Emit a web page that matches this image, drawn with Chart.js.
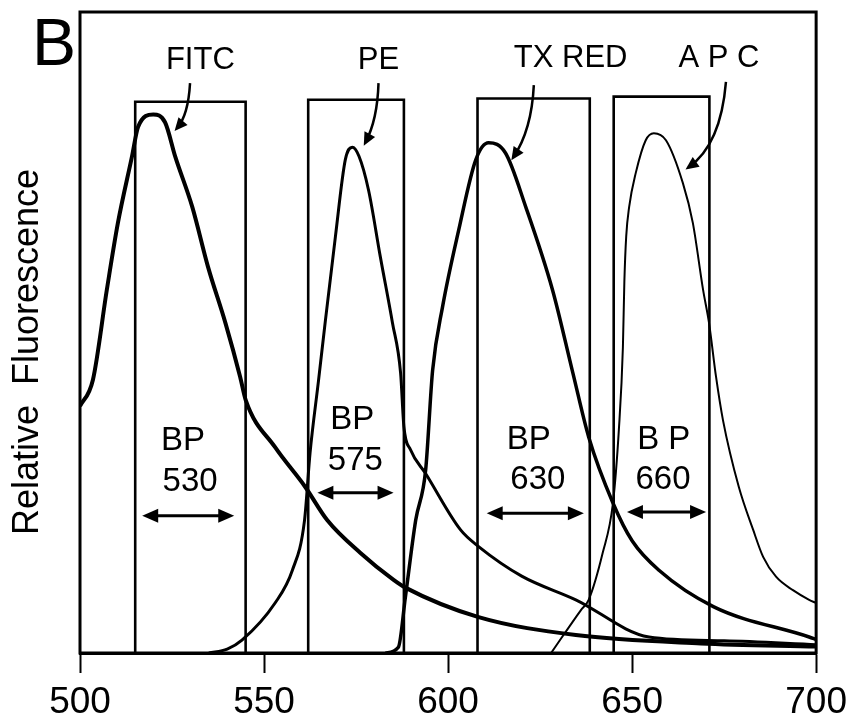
<!DOCTYPE html>
<html>
<head>
<meta charset="utf-8">
<script src="https://cdn.jsdelivr.net/npm/chart.js@4/dist/chart.umd.min.js"></script>
<style>
  body { margin: 0; background: #fff; }
  canvas { display: block; }
</style>
</head>
<body>
<canvas id="spectraChart" width="855" height="725"></canvas>
<script>
// emission curves, [nm, relative fluorescence]
const fitc = [[500, 38.5], [503.5, 42.6], [507.3, 56.7], [510.3, 67.1], [514.1, 77.4], [515.8, 82.1], [519.9, 84.0],
  [523.1, 82.8], [525.9, 77.4], [530.5, 69.6], [534.8, 60.2], [539.5, 51.5], [543.5, 43.1], [545, 39.5], [553, 32.1],
  [561.2, 25.9], [567.2, 20.7], [576.2, 15.6], [585.2, 11.4], [588.4, 10.2], [608.3, 5.6], [634.7, 2.8],
  [668.7, 1.5], [700, 1.0]];
const pe = [[535, 0], [540, 0.6], [544, 2.0], [553, 7.8], [557.7, 12.9], [561, 20.7], [562.5, 31.2], [564.8, 42.5],
  [566.7, 52.0], [569.4, 65.0], [572.1, 77.0], [574, 78.9], [575.8, 77.5], [578.4, 72.2], [581.6, 61.8],
  [584.9, 51.5], [587.1, 43.7], [588, 35.3], [589.8, 31.7], [593.9, 28.0], [603.4, 19.2], [608.3, 16.6],
  [620, 12.0], [634.7, 8.3], [654.6, 2.5], [675, 1.9], [700, 1.3]];
const txRed = [[583, 0], [586.5, 0.9], [588.4, 8.7], [591.2, 20.7], [593.9, 28.5], [595.8, 44.1], [598.5, 54.0],
  [602.9, 66.0], [607.5, 76.9], [611, 79.6], [615.6, 78.0], [621.1, 69.6], [628.4, 56.6], [633.9, 43.7], [638.2, 33.7],
  [644.8, 23.4], [650, 17.5], [657.3, 12.9], [672.2, 7.2], [698.1, 2.5], [700, 2.1]];
const apc = [[628, 0], [636.1, 6.7], [638.2, 8.3], [642, 15.6], [644.8, 23.4], [646.4, 34.8], [647.5, 47.7],
  [647.9, 58.0], [648.4, 65.0], [649.2, 69.6], [651, 74.9], [653.7, 80.0], [655.9, 81.1], [659.2, 80.0],
  [663.8, 73.3], [666.5, 67.1], [669.3, 56.6], [670.9, 51.5], [672.8, 43.1], [674.7, 36.3], [679, 25.9],
  [682.9, 19.2], [685.6, 15.0], [689.1, 11.9], [693.7, 9.8], [698.1, 8.3], [700, 7.8]];

// band pass filters: name, low edge, high edge, top
const filterNames = ['BP 530', 'BP 575', 'BP 630', 'BP 660'];
const filterLow = [515, 562, 608, 645];
const filterHigh = [545, 588, 638.5, 671];
const filterTop = [86, 86.3, 86.5, 86.8];

const xTicks = [500, 550, 600, 650, 700];

// dye labels with their pointer arrows [start, bend, tip]
const dyeLabels = ['FITC', 'PE', 'TX RED', 'A P C'];
const dyeLabelPos = [[532.7, 92.4], [581.1, 92.4], [633.3, 92.8], [673.6, 92.8]];
const dyeArrows = [
  [[529.9, 88.9], [529.4, 83.9], [526.4, 81.9]],
  [[581.1, 88.9], [580.8, 83.2], [577.6, 79.7]],
  [[623.3, 88.6], [622.7, 81.6], [617.8, 77.4]],
  [[675.5, 89.1], [674.1, 79.3], [665.4, 75.8]]
];

// filter captions and double arrows
const bpTop = ['BP', 'BP', 'BP', 'B P'];
const bpNum = ['530', '575', '630', '660'];
const bpTopPos = [[528.0, 33.1], [574.0, 36.3], [621.9, 33.2], [658.6, 33.2]];
const bpNumPos = [[529.9, 26.7], [574.8, 30.0], [624.4, 27.0], [658.4, 27.0]];
const bpArrows = [[516.9, 541.9, 21.4], [564.5, 585.2, 25.0], [610.5, 636.9, 21.8], [648.6, 670.1, 22.0]];

const toPts = arr => arr.map(p => ({ x: p[0], y: p[1] }));

function curve(label, pts, width) {
  return {
    label: label,
    data: toPts(pts),
    borderColor: '#000',
    borderWidth: width,
    pointRadius: 0,
    fill: false,
    cubicInterpolationMode: 'monotone'
  };
}

const boxSets = filterNames.map((name, i) => ({
  label: name,
  data: [
    { x: filterLow[i], y: 0 }, { x: filterLow[i], y: filterTop[i] },
    { x: filterHigh[i], y: filterTop[i] }, { x: filterHigh[i], y: 0 }
  ],
  borderColor: '#000',
  borderWidth: 2.6,
  pointRadius: 0,
  fill: false,
  tension: 0
}));

function arrowHead(ctx, x, y, ang, len, half) {
  ctx.beginPath();
  ctx.moveTo(x, y);
  ctx.lineTo(x - len * Math.cos(ang) + half * Math.sin(ang), y - len * Math.sin(ang) - half * Math.cos(ang));
  ctx.lineTo(x - len * Math.cos(ang) - half * Math.sin(ang), y - len * Math.sin(ang) + half * Math.cos(ang));
  ctx.closePath();
  ctx.fill();
}

const annotations = {
  id: 'annotations',
  afterDraw(chart) {
    const ctx = chart.ctx;
    const xs = chart.scales.x, ys = chart.scales.y;
    const px = v => xs.getPixelForValue(v);
    const py = v => ys.getPixelForValue(v);
    const area = chart.chartArea;

    ctx.save();
    ctx.strokeStyle = '#000';
    ctx.fillStyle = '#000';

    // frame
    ctx.lineWidth = 3;
    ctx.strokeRect(area.left, area.top, area.right - area.left, area.bottom - area.top);

    // panel letter
    ctx.font = '66px "Liberation Sans", Arial, sans-serif';
    ctx.textAlign = 'left';
    ctx.textBaseline = 'alphabetic';
    ctx.fillText('B', 32, 65);

    // y title
    ctx.save();
    ctx.translate(28, 352);
    ctx.rotate(-Math.PI / 2);
    ctx.font = '36px "Liberation Sans", Arial, sans-serif';
    ctx.textAlign = 'center';
    ctx.textBaseline = 'middle';
    ctx.fillText('Relative  Fluorescence', 0, 0);
    ctx.restore();

    // dye labels and arrows
    ctx.font = '31px "Liberation Sans", Arial, sans-serif';
    ctx.textAlign = 'center';
    ctx.textBaseline = 'middle';
    dyeLabels.forEach((t, i) => {
      ctx.fillText(t, px(dyeLabelPos[i][0]), py(dyeLabelPos[i][1]));
      const a = dyeArrows[i];
      const p0 = [px(a[0][0]), py(a[0][1])], p1 = [px(a[1][0]), py(a[1][1])], p2 = [px(a[2][0]), py(a[2][1])];
      ctx.lineWidth = 2.5;
      ctx.beginPath();
      ctx.moveTo(p0[0], p0[1]);
      ctx.quadraticCurveTo(p1[0], p1[1], p2[0], p2[1]);
      ctx.stroke();
      const ang = Math.atan2(p2[1] - p1[1], p2[0] - p1[0]);
      arrowHead(ctx, p2[0] + 4 * Math.cos(ang), p2[1] + 4 * Math.sin(ang), ang, 13, 6);
    });

    // filter captions
    ctx.font = '33px "Liberation Sans", Arial, sans-serif';
    bpTop.forEach((t, i) => {
      ctx.fillText(t, px(bpTopPos[i][0]), py(bpTopPos[i][1]));
      ctx.fillText(bpNum[i], px(bpNumPos[i][0]), py(bpNumPos[i][1]));
      const [a, b, v] = bpArrows[i];
      const x1 = px(a), x2 = px(b), y = py(v);
      ctx.lineWidth = 3;
      ctx.beginPath();
      ctx.moveTo(x1 + 8, y);
      ctx.lineTo(x2 - 8, y);
      ctx.stroke();
      arrowHead(ctx, x2, y, 0, 16, 7);
      arrowHead(ctx, x1, y, Math.PI, 16, 7);
    });
    ctx.restore();
  }
};

new Chart(document.getElementById('spectraChart'), {
  type: 'line',
  data: {
    datasets: [
      curve('FITC', fitc, 4),
      curve('PE', pe, 3),
      curve('TX RED', txRed, 3.5),
      curve('APC', apc, 2),
      ...boxSets
    ]
  },
  options: {
    responsive: false,
    animation: false,
    devicePixelRatio: 1,
    layout: { padding: { left: 80, top: 12, right: 37, bottom: 0 } },
    plugins: { legend: { display: false }, tooltip: { enabled: false } },
    scales: {
      x: {
        type: 'linear',
        min: 500,
        max: 700,
        afterBuildTicks: scale => { scale.ticks = xTicks.map(v => ({ value: v })); },
        afterFit: scale => { scale.height = 72; },
        ticks: {
          color: '#000',
          padding: 8,
          maxRotation: 0,
          font: { family: '"Liberation Sans", Arial, sans-serif', size: 37 }
        },
        grid: { drawOnChartArea: false, drawTicks: true, tickLength: 20, tickWidth: 2, color: '#000' },
        border: { display: true, color: '#000', width: 3 }
      },
      y: {
        type: 'linear',
        min: 0,
        max: 100,
        display: false
      }
    }
  },
  plugins: [annotations]
});
</script>
</body>
</html>
